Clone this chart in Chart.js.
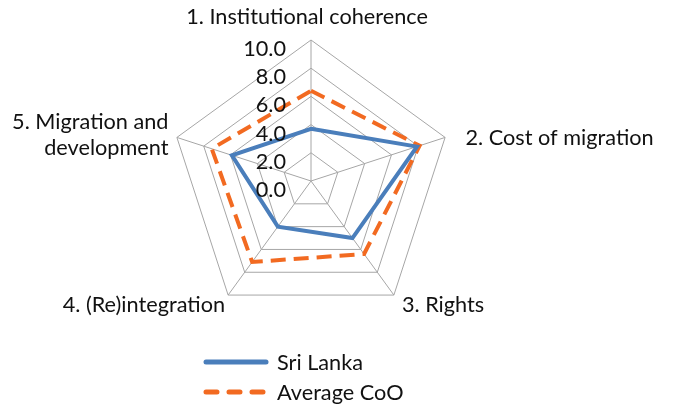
<!DOCTYPE html>
<html>
<head>
<meta charset="utf-8">
<script src="https://cdn.jsdelivr.net/npm/chart.js@4.4.0/dist/chart.umd.min.js"></script>
<style>
    body { margin: 0; background: #fff; font-family: Lato, sans-serif; }
    #wrap { position: relative; width: 673px; height: 407px; }
    #legend { position: absolute; left: 202px; top: 347px; font-size: 21.7px; color: #111; }
    .item { display: flex; align-items: center; height: 30px; }
    .item svg { margin-right: 7px; }
</style>
</head>
<body>
<div id="wrap">
    <canvas id="radarChart" width="673" height="407"></canvas>
    <div id="legend"></div>
</div>
<script>
const categories = [
    '1. Institutional coherence',
    '2. Cost of migration',
    '3. Rights',
    '4. (Re)integration',
    ['5. Migration and', 'development']
];
const sriLanka = [3.7, 7.9, 5.0, 4.0, 5.9];
const averageCoO = [6.4, 8.1, 6.4, 7.1, 7.4];
const tickValues = [0, 2, 4, 6, 8, 10];

const BLUE = '#4a7ebb';
const ORANGE = '#f26a21';
const GRID = '#a6a6a6';
const FONT = '21.7px Lato';

// category labels, placed off each spoke like Excel does
const pointLabelPlugin = {
    id: 'pointLabels',
    afterDraw(chart) {
        const scale = chart.scales.r;
        const ctx = chart.ctx;
        const tweak = [[-4, -11, 'center'], [9, 4, 'left'], [1, 0, 'left'], [4, 0, 'right'], [3, 1, 'right']];
        ctx.save();
        ctx.font = FONT;
        ctx.fillStyle = '#111';
        ctx.textBaseline = 'middle';
        chart.data.labels.forEach((lbl, i) => {
            const p = scale.getPointPosition(i, scale.drawingArea + 12);
            const [dx, dy, align] = tweak[i];
            const lines = [].concat(lbl);
            ctx.textAlign = align;
            lines.forEach((line, j) => {
                const y = p.y + dy + (j - (lines.length - 1) / 2) * 26;
                ctx.fillText(line, p.x + dx, y);
            });
        });
        ctx.restore();
    }
};

// tick labels sit left of the vertical axis, drawn on top of the lines
const tickLabelPlugin = {
    id: 'tickLabels',
    afterDatasetsDraw(chart) {
        const scale = chart.scales.r;
        const ctx = chart.ctx;
        ctx.save();
        ctx.font = FONT;
        ctx.fillStyle = '#111';
        ctx.textAlign = 'right';
        ctx.textBaseline = 'middle';
        tickValues.forEach(v => {
            const d = scale.getDistanceFromCenterForValue(v);
            ctx.fillText(v.toFixed(1), scale.xCenter - 25, scale.yCenter - d + 9);
        });
        ctx.restore();
    }
};

const ctx = document.getElementById('radarChart').getContext('2d');
const chart = new Chart(ctx, {
    type: 'radar',
    data: {
        labels: categories,
        datasets: [{
            label: 'Sri Lanka',
            data: sriLanka,
            borderColor: BLUE,
            borderWidth: 4,
            fill: false,
            pointRadius: 0
        }, {
            label: 'Average CoO',
            data: averageCoO,
            borderColor: ORANGE,
            borderWidth: 4,
            borderDash: [15, 8],
            fill: false,
            pointRadius: 0
        }]
    },
    options: {
        responsive: false,
        animation: false,
        layout: { padding: { top: 40, bottom: 85, left: 100, right: 151 } },
        elements: { line: { tension: 0 } },
        scales: {
            r: {
                min: 0,
                max: 10,
                ticks: { stepSize: 2, display: false },
                grid: { color: GRID, lineWidth: 1 },
                angleLines: { color: GRID, lineWidth: 1 },
                pointLabels: { display: false }
            }
        },
        plugins: {
            legend: { display: false },
            tooltip: { enabled: false }
        }
    },
    plugins: [pointLabelPlugin, tickLabelPlugin]
});

// legend below the chart, one entry per row
const legendEl = document.getElementById('legend');
chart.data.datasets.forEach(ds => {
    const dash = ds.borderDash ? 'stroke-dasharray="11 12"' : '';
    legendEl.insertAdjacentHTML('beforeend',
        `<div class="item"><svg width="68" height="8"><line x1="4" y1="4" x2="64" y2="4" stroke="${ds.borderColor}" stroke-width="5" stroke-linecap="round" ${dash}/></svg>${ds.label}</div>`);
});
</script>
</body>
</html>
